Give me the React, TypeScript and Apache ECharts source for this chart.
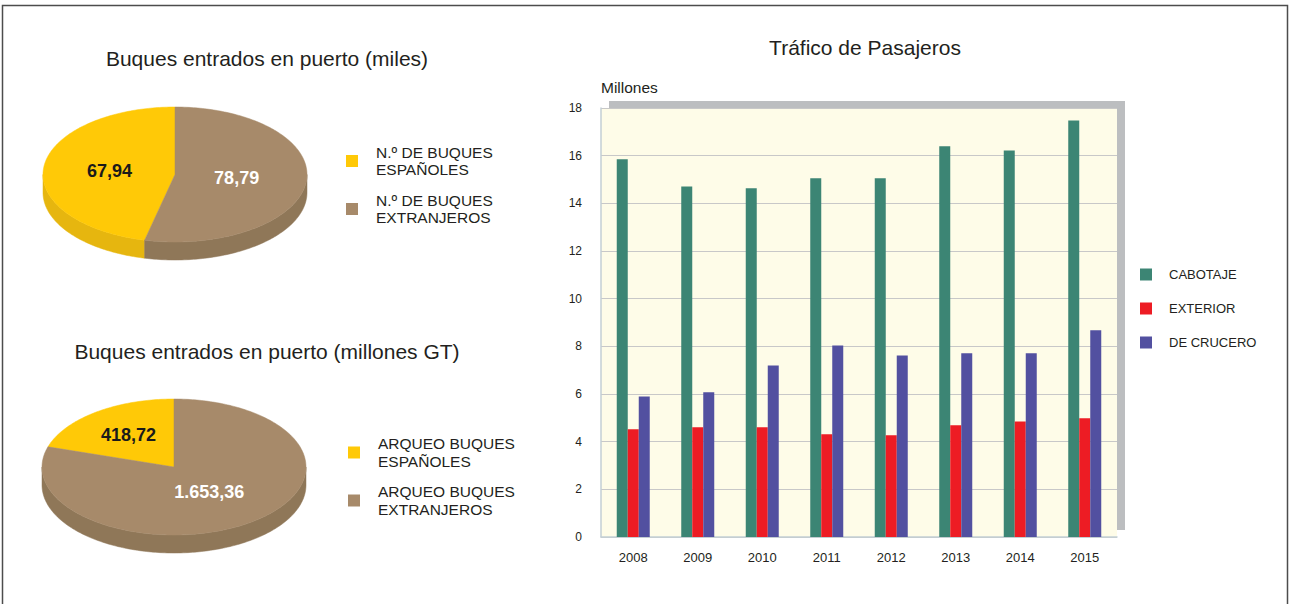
import { useEffect, useRef } from "react";
import * as echarts from "echarts";

// ---- Data ----
const years = ["2008", "2009", "2010", "2011", "2012", "2013", "2014", "2015"];
const cabotaje = [15.85, 14.71, 14.63, 15.05, 15.05, 16.39, 16.22, 17.48];
const exterior = [4.52, 4.6, 4.6, 4.31, 4.27, 4.69, 4.85, 4.98];
const crucero = [5.9, 6.07, 7.2, 8.04, 7.62, 7.71, 7.71, 8.68];
const barSeriesNames = ["CABOTAJE", "EXTERIOR", "DE CRUCERO"];

const buquesNames = ["N.º DE BUQUES\nESPAÑOLES", "N.º DE BUQUES\nEXTRANJEROS"];
const buquesValues = [67.94, 78.79];
const buquesLabels = ["67,94", "78,79"];

const arqueoNames = ["ARQUEO BUQUES\nESPAÑOLES", "ARQUEO BUQUES\nEXTRANJEROS"];
const arqueoValues = [418.72, 1653.36];
const arqueoLabels = ["418,72", "1.653,36"];

const titleBar = "Tráfico de Pasajeros";
const titlePie1 = "Buques entrados en puerto (miles)";
const titlePie2 = "Buques entrados en puerto (millones GT)";
const yName = "Millones";

// ---- Styles ----
const FONT = "'Liberation Sans', Arial, sans-serif";
const barColors = ["#3C8574", "#ED1C24", "#5250A0"];
const pieTop = ["#FFC907", "#A78A6A"];
const pieSide = ["#E6B60F", "#8F7758"];
const pieLabelColor = ["#1a1a1a", "#ffffff"];

type Geo = { cx: number; cy: number; rx: number; ry: number; depth: number; f: number[] };

function makePieRender(values: number[], labels: string[], geo: Geo) {
  return (params: any) => {
    const i = params.dataIndex;
    const total = values.reduce((a, b) => a + b, 0);
    let cum = 0;
    for (let k = 0; k < i; k++) cum += values[k];
    const a2 = (-cum / total) * 360;
    const a1 = (-(cum + values[i]) / total) * 360;
    const pt = (deg: number, dy = 0) => {
      const r = (deg * Math.PI) / 180;
      return [geo.cx + geo.rx * Math.sin(r), geo.cy - geo.ry * Math.cos(r) + dy];
    };
    const children: any[] = [];
    for (const k of [-2, -1, 0, 1]) {
      const lo = Math.max(a1, 90 + 360 * k);
      const hi = Math.min(a2, 270 + 360 * k);
      if (hi > lo) {
        const up: number[][] = [];
        const down: number[][] = [];
        for (let d = lo; d < hi; d += 1) {
          up.push(pt(d));
          down.push(pt(d, geo.depth));
        }
        up.push(pt(hi));
        down.push(pt(hi, geo.depth));
        children.push({
          type: "polygon",
          shape: { points: up.concat(down.reverse()) },
          style: { fill: pieSide[i], stroke: pieSide[i], lineWidth: 0.5 },
        });
      }
    }
    const top: number[][] = [[geo.cx, geo.cy]];
    for (let d = a1; d < a2; d += 1) top.push(pt(d));
    top.push(pt(a2));
    children.push({
      type: "polygon",
      shape: { points: top },
      style: { fill: pieTop[i], stroke: pieTop[i], lineWidth: 0.5 },
    });
    const mid = ((a1 + a2) / 2) * (Math.PI / 180);
    children.push({
      type: "text",
      x: geo.cx + geo.rx * geo.f[i] * Math.sin(mid),
      y: geo.cy - geo.ry * geo.f[i] * Math.cos(mid),
      style: {
        text: labels[i],
        fill: pieLabelColor[i],
        font: `bold 18px ${FONT}`,
        align: "center",
        verticalAlign: "middle",
      },
    });
    return { type: "group", children };
  };
}

function legendBlock(names: string[], x: number, ys: number[]) {
  const els: any[] = [];
  names.forEach((n, i) => {
    els.push({
      type: "rect",
      shape: { x, y: ys[i] - 6, width: 12, height: 12 },
      style: { fill: pieTop[i] },
    });
    els.push({
      type: "text",
      x: x + 30,
      y: ys[i],
      style: {
        text: n,
        fill: "#231f20",
        font: `15.5px ${FONT}`,
        lineHeight: 17.5,
        verticalAlign: "middle",
        align: "left",
      },
    });
  });
  return els;
}

export default function App() {
  const ref = useRef<HTMLDivElement>(null);
  useEffect(() => {
    if (!ref.current) return;
    const chart = echarts.init(ref.current, undefined, { renderer: "svg" });
    const pie1: Geo = { cx: 175, cy: 174.5, rx: 132, ry: 67.5, depth: 18, f: [0.5, 0.47] };
    const pie2: Geo = { cx: 174, cy: 467, rx: 132, ry: 68, depth: 18, f: [0.58, 0.45] };
    const option: any = {
      animation: false,
      backgroundColor: "#ffffff",
      textStyle: { fontFamily: FONT },
      title: [
        {
          text: titleBar,
          left: 865,
          top: 37,
          padding: 0,
          textAlign: "center",
          textStyle: { fontSize: 21, fontWeight: "normal", color: "#231f20", fontFamily: FONT },
        },
        {
          text: titlePie1,
          left: 267,
          top: 48,
          padding: 0,
          textAlign: "center",
          textStyle: { fontSize: 21, fontWeight: "normal", color: "#231f20", fontFamily: FONT },
        },
        {
          text: titlePie2,
          left: 267,
          top: 341,
          padding: 0,
          textAlign: "center",
          textStyle: { fontSize: 21, fontWeight: "normal", color: "#231f20", fontFamily: FONT },
        },
      ],
      legend: {
        data: barSeriesNames,
        orient: "vertical",
        left: 1140,
        top: 268,
        itemWidth: 12,
        itemHeight: 12,
        itemGap: 21,
        icon: "rect",
        padding: 0,
        textStyle: { fontSize: 13, color: "#231f20", fontFamily: FONT, padding: [0, 0, 0, 12] },
      },
      grid: {
        left: 601,
        top: 108,
        width: 516,
        height: 429,
        show: true,
        backgroundColor: "#FEFCE8",
        borderWidth: 0,
      },
      xAxis: {
        type: "category",
        data: years,
        axisLine: { lineStyle: { color: "#C3CFD5", width: 1.5 } },
        axisTick: { show: false },
        axisLabel: { fontSize: 13, color: "#231f20", margin: 14, fontFamily: FONT },
      },
      yAxis: {
        type: "value",
        min: 0,
        max: 18,
        interval: 2,
        name: yName,
        nameLocation: "end",
        nameGap: 13,
        nameTextStyle: { fontSize: 15.5, color: "#231f20", align: "left", fontFamily: FONT },
        axisLine: { show: true, lineStyle: { color: "#C3CFD5", width: 1.5 } },
        axisTick: { show: false },
        axisLabel: { fontSize: 12, color: "#231f20", margin: 19, fontFamily: FONT },
        splitLine: { lineStyle: { color: "#C8C8C8", width: 1.2 } },
      },
      series: [
        {
          name: barSeriesNames[0],
          type: "bar",
          data: cabotaje,
          barWidth: 11,
          barGap: "0%",
          itemStyle: { color: barColors[0] },
        },
        {
          name: barSeriesNames[1],
          type: "bar",
          data: exterior,
          barWidth: 11,
          barGap: "0%",
          itemStyle: { color: barColors[1] },
        },
        {
          name: barSeriesNames[2],
          type: "bar",
          data: crucero,
          barWidth: 11,
          barGap: "0%",
          itemStyle: { color: barColors[2] },
        },
        {
          name: "buques",
          type: "custom",
          coordinateSystem: "none",
          silent: true,
          data: buquesValues,
          renderItem: makePieRender(buquesValues, buquesLabels, pie1),
        },
        {
          name: "arqueo",
          type: "custom",
          coordinateSystem: "none",
          silent: true,
          data: arqueoValues,
          renderItem: makePieRender(arqueoValues, arqueoLabels, pie2),
        },
      ],
      graphic: [
        {
          type: "rect",
          z: -1,
          shape: { x: 609, y: 101, width: 516, height: 429 },
          style: { fill: "#BCBEC0" },
        },
        {
          type: "rect",
          z: 100,
          shape: { x: 2.5, y: 5.5, width: 1285, height: 640 },
          style: { fill: "none", stroke: "#4d4d4d", lineWidth: 1.5 },
        },
        ...legendBlock(buquesNames, 346, [161, 209]),
        ...legendBlock(arqueoNames, 348, [452.5, 500.5]),
      ],
    };
    chart.setOption(option);
    return () => chart.dispose();
  }, []);
  return (
    <div
      ref={ref}
      style={{ position: "absolute", left: 0, top: 0, width: 1289, height: 604 }}
    />
  );
}
